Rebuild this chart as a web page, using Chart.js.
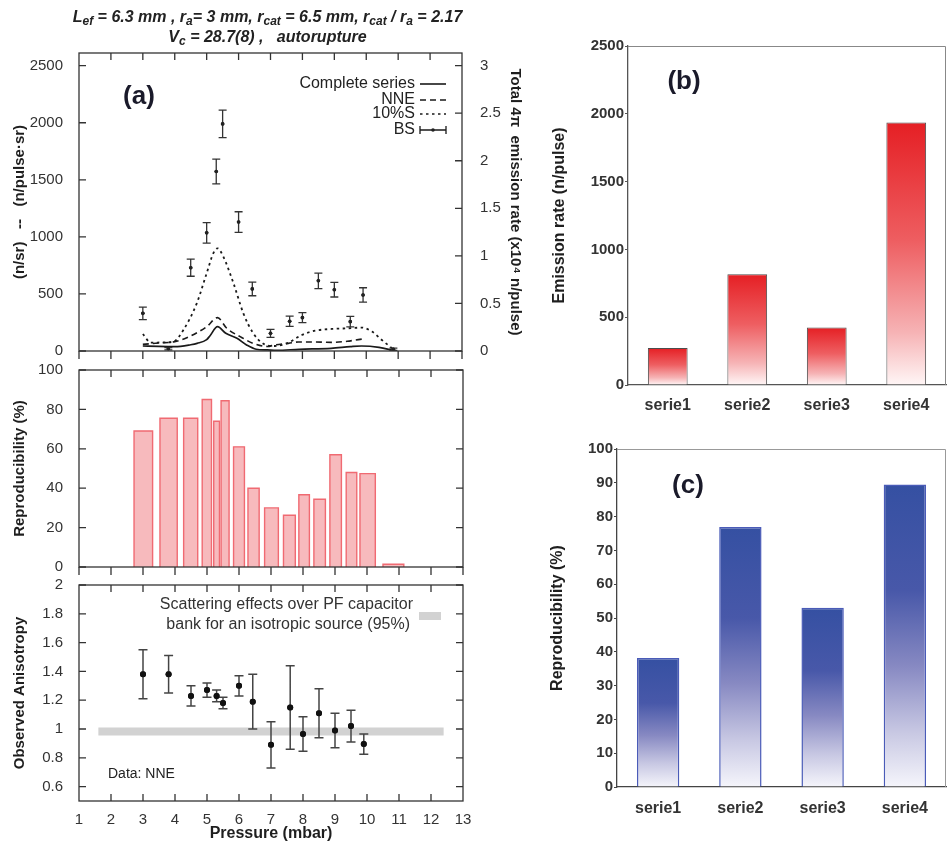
<!DOCTYPE html>
<html><head><meta charset="utf-8">
<script src="https://cdn.jsdelivr.net/npm/chart.js@4.4.0/dist/chart.umd.min.js"></script>
<style>
html,body{margin:0;padding:0;background:#fff;}
#wrap{position:relative;width:947px;height:846px;overflow:hidden;background:#fff;}
canvas{position:absolute;left:0;top:0;}
.t{position:absolute;left:0;width:535px;text-align:center;font:italic bold 16px 'Liberation Sans',Arial,sans-serif;color:#222;white-space:nowrap;line-height:18px;}
.t sub{font-size:12px;line-height:0;vertical-align:-3px;}
</style></head>
<body><div id="wrap">
<canvas id="a1" width="947" height="846"></canvas>
<canvas id="a2" width="947" height="846"></canvas>
<canvas id="a3" width="947" height="846"></canvas>
<canvas id="cb" width="947" height="846"></canvas>
<canvas id="cc" width="947" height="846"></canvas>
<div class="t" style="top:8px">L<sub>ef</sub> = 6.3 mm , r<sub>a</sub>= 3 mm, r<sub>cat</sub> = 6.5 mm, r<sub>cat</sub> / r<sub>a</sub> = 2.17</div>
<div class="t" style="top:28px">V<sub>c</sub> = 28.7(8) ,&nbsp;&nbsp; autorupture</div>
</div>
<script>
// ---------------- DATA ----------------
const completeP = [3.0, 3.5, 4.0, 4.5, 4.7, 5.0, 5.1, 5.34, 5.6, 5.95, 6.25, 6.55, 6.9, 7.2, 7.9, 8.9, 9.5, 9.85, 10.4, 10.85];
const completeV = [44, 40, 38, 55, 67, 100, 132, 213, 155, 111, 53, 15, 9, 6, 15, 23, 38, 44, 32, 5];
const nneP = [3.0, 3.5, 4.0, 4.5, 5.0, 5.34, 5.63, 6.05, 6.46, 6.9, 7.14, 7.56, 7.87, 8.4, 8.92, 9.4, 9.75, 9.95];
const nneV = [58, 70, 82, 132, 213, 292, 199, 126, 67, 40, 53, 67, 79, 79, 76, 85, 100, 108];
const s10P = [3.0, 3.25, 3.6, 3.96, 4.27, 4.69, 5.0, 5.21, 5.34, 5.52, 5.84, 6.15, 6.46, 6.8, 7.14, 7.56, 7.98, 8.4, 8.92, 9.44, 9.86, 10.18, 10.49, 10.85];
const s10V = [149, 73, 75, 82, 184, 418, 681, 857, 900, 827, 594, 330, 155, 60, 44, 73, 140, 178, 193, 199, 205, 170, 96, 15];
const bsP = [3.0, 3.8, 4.5, 5.0, 5.3, 5.5, 6.0, 6.43, 7.0, 7.6, 8.0, 8.5, 9.0, 9.5, 9.9, 10.85];
const bsV = [330, 20, 730, 1035, 1573, 1990, 1130, 544, 155, 260, 292, 615, 537, 257, 491, 15];
const bsErr = [55, 10, 75, 90, 108, 120, 90, 60, 35, 45, 44, 68, 64, 46, 63, 10];
const leftTicksA = [0, 500, 1000, 1500, 2000, 2500];

const reproLeft  = [2.72, 3.53, 4.27, 4.85, 5.21, 5.44, 5.83, 6.28, 6.80, 7.39, 7.87, 8.34, 8.84, 9.35, 9.78, 10.50];
const reproRight = [3.30, 4.07, 4.71, 5.14, 5.39, 5.69, 6.17, 6.63, 7.23, 7.76, 8.20, 8.70, 9.20, 9.68, 10.26, 11.15];
const reproV     = [69, 75.5, 75.5, 85, 74, 84.4, 61, 40, 30, 26.3, 36.7, 34.4, 57, 48, 47.4, 1.4];

const anisoP = [3.0, 3.8, 4.5, 5.0, 5.3, 5.5, 6.0, 6.43, 7.0, 7.6, 8.0, 8.5, 9.0, 9.5, 9.9];
const anisoV = [1.38, 1.38, 1.23, 1.27, 1.23, 1.18, 1.30, 1.19, 0.89, 1.15, 0.965, 1.11, 0.99, 1.02, 0.895];
const anisoErr = [0.17, 0.13, 0.07, 0.05, 0.04, 0.04, 0.07, 0.19, 0.16, 0.29, 0.12, 0.17, 0.12, 0.11, 0.07];
const bandP = [1.6, 12.4];
const bandLow = 0.955, bandHigh = 1.01;

const seriesLabels = ['serie1', 'serie2', 'serie3', 'serie4'];
const emissionRate = [272, 817, 424, 1936];
const reproducibility = [38.2, 76.9, 53.0, 89.5];

// ---------------- HELPERS ----------------
const FF = "'Liberation Sans', Arial, Helvetica, sans-serif";
const pts = (xs, ys) => xs.map((x, i) => ({x: x, y: ys[i]}));
const num = v => String(+(+v).toFixed(3));

const errPlugin = {
  id: 'errbars',
  afterDatasetsDraw(chart) {
    const ctx = chart.ctx;
    chart.data.datasets.forEach((ds, i) => {
      if (!ds.errors) return;
      const meta = chart.getDatasetMeta(i);
      const ys = chart.scales[meta.yAxisID];
      ctx.save();
      ctx.strokeStyle = ds.errColor; ctx.lineWidth = ds.errWidth;
      ctx.beginPath();
      meta.data.forEach((pt, j) => {
        const v = ds.data[j].y, e = ds.errors[j];
        const x = pt.x, y1 = ys.getPixelForValue(v + e), y2 = ys.getPixelForValue(v - e);
        const c = ds.capHalf;
        ctx.moveTo(x, y1); ctx.lineTo(x, y2);
        ctx.moveTo(x - c, y1); ctx.lineTo(x + c, y1);
        ctx.moveTo(x - c, y2); ctx.lineTo(x + c, y2);
      });
      ctx.stroke();
      meta.data.forEach((pt) => { pt.draw(ctx); });
      ctx.restore();
    });
  }
};

const framePlugin = {
  id: 'frame',
  afterDatasetsDraw(chart, args, o) {
    const {ctx, chartArea: a} = chart;
    const L = o.len;
    ctx.save();
    ctx.strokeStyle = o.color; ctx.lineWidth = o.width;
    ctx.strokeRect(a.left, a.top, a.right - a.left, a.bottom - a.top);
    ctx.beginPath();
    const xs = chart.scales.x;
    xs.ticks.forEach(t => {
      const px = xs.getPixelForValue(t.value);
      if (t.value > xs.min && t.value < xs.max) { ctx.moveTo(px, a.top); ctx.lineTo(px, a.top + L); }
      if (o.xBottomOut) { ctx.moveTo(px, a.bottom); ctx.lineTo(px, a.bottom + L + 1); }
      else if (t.value > xs.min && t.value < xs.max) { ctx.moveTo(px, a.bottom); ctx.lineTo(px, a.bottom - L); }
    });
    const ys = chart.scales.y;
    ys.ticks.forEach(t => {
      const py = ys.getPixelForValue(t.value);
      ctx.moveTo(a.left, py); ctx.lineTo(a.left + L, py);
      if (!o.rightScale) { ctx.moveTo(a.right, py); ctx.lineTo(a.right - L, py); }
    });
    if (o.rightScale) {
      const rs = chart.scales[o.rightScale];
      rs.ticks.forEach(t => {
        const py = rs.getPixelForValue(t.value);
        ctx.moveTo(a.right, py); ctx.lineTo(a.right - L, py);
      });
    }
    ctx.stroke();
    ctx.restore();
  }
};

function gradFill(stops) {
  return (c) => {
    const chart = c.chart;
    if (!chart.chartArea || c.type !== 'data') return stops[0][1];
    const y = chart.scales.y;
    const top = y.getPixelForValue(c.raw), base = y.getPixelForValue(0);
    const g = chart.ctx.createLinearGradient(0, top, 0, base);
    stops.forEach(s => g.addColorStop(s[0], s[1]));
    return g;
  };
}

const baseOpts = {
  responsive: false, animation: false, devicePixelRatio: 1,
  plugins: {legend: {display: false}, tooltip: {enabled: false}}
};

const xLinear = (h, showLabels) => ({
  type: 'linear', min: 1, max: 13,
  grid: {display: false}, border: {display: false},
  ticks: {display: showLabels, stepSize: 1, font: {family: FF, size: 15}, color: '#333', padding: 2, maxRotation: 0, autoSkip: false},
  afterFit: s => { s.height = h; }
});

const yTitle = (text, pad) => ({display: true, text: text, color: '#1e1e1e', font: {family: FF, size: 15, weight: 'bold'}, padding: {top: pad, bottom: 0}});

// ---------------- (a) top ----------------
new Chart(document.getElementById('a1'), {
  type: 'line',
  data: {
    datasets: [
      {label: 'BS', data: pts(bsP, bsV), showLine: false, pointRadius: 1.8, pointBackgroundColor: '#222', pointBorderWidth: 0,
       errors: bsErr, errColor: '#333', errWidth: 1.3, capHalf: 4},
      {label: 'Complete series', data: pts(completeP, completeV), borderColor: '#1a1a1a', borderWidth: 1.7, pointRadius: 0, cubicInterpolationMode: 'monotone', fill: false},
      {label: 'NNE', data: pts(nneP, nneV), borderColor: '#1a1a1a', borderWidth: 1.6, borderDash: [6, 4], pointRadius: 0, cubicInterpolationMode: 'monotone', fill: false},
      {label: '10%S', data: pts(s10P, s10V), borderColor: '#1a1a1a', borderWidth: 1.8, borderDash: [2.5, 3.5], pointRadius: 0, cubicInterpolationMode: 'monotone', fill: false}
    ]
  },
  options: Object.assign({}, baseOpts, {
    layout: {padding: {left: 0, right: 415, top: 53, bottom: 495}},
    plugins: Object.assign({}, baseOpts.plugins, {frame: {len: 7, color: '#333', width: 1.3, xBottomOut: true, rightScale: 'y1'}}),
    scales: {
      x: xLinear(0, false),
      y: {type: 'linear', position: 'left', min: 0, max: 2611,
          grid: {display: false}, border: {display: false},
          afterBuildTicks: s => { s.ticks = leftTicksA.map(v => ({value: v})); },
          ticks: {padding: 8, color: '#333', font: {family: FF, size: 15}, callback: v => String(v)},
          title: yTitle('(n/sr)   --   (n/pulse\u00b7sr)', 11),
          afterFit: s => { s.width = 79; }},
      y1: {type: 'linear', position: 'right', min: 0, max: 3.133,
          grid: {display: false}, border: {display: false},
          ticks: {stepSize: 0.5, includeBounds: false, padding: 10, color: '#333', font: {family: FF, size: 15}, callback: num},
          title: yTitle('Total 4\u03c0  emission rate (x10\u2074 n/pulse)', 8),
          afterFit: s => { s.width = 70; }}
    }
  }),
  plugins: [errPlugin, framePlugin, {
    id: 'a1extra',
    afterDraw(chart) {
      const ctx = chart.ctx;
      ctx.save();
      ctx.fillStyle = '#222'; ctx.textAlign = 'right'; ctx.textBaseline = 'middle';
      ctx.font = '16px ' + FF;
      const rows = [['Complete series', 84, []], ['NNE', 100, [6, 4]], ['10%S', 114, [2.5, 3.5]], ['BS', 130, null]];
      ctx.strokeStyle = '#1a1a1a'; ctx.lineWidth = 1.6;
      rows.forEach(r => {
        ctx.fillText(r[0], 415, r[1]);
        ctx.beginPath();
        if (r[2]) { ctx.setLineDash(r[2]); ctx.moveTo(420, r[1]); ctx.lineTo(446, r[1]); ctx.stroke(); ctx.setLineDash([]); }
        else {
          ctx.lineWidth = 1.3;
          ctx.moveTo(420, r[1]); ctx.lineTo(446, r[1]);
          ctx.moveTo(420, r[1] - 4); ctx.lineTo(420, r[1] + 4);
          ctx.moveTo(446, r[1] - 4); ctx.lineTo(446, r[1] + 4);
          ctx.stroke();
          ctx.beginPath(); ctx.arc(433, r[1], 1.8, 0, Math.PI * 2); ctx.fill();
        }
      });
      ctx.textAlign = 'center';
      ctx.fillStyle = '#1a1a2a';
      ctx.font = 'bold 26px ' + FF;
      ctx.fillText('(a)', 139, 97);
      ctx.restore();
    }
  }]
});

// ---------------- (a) middle ----------------
const reproPts = [];
reproV.forEach((v, i) => {
  reproPts.push({x: reproLeft[i], y: 0}, {x: reproLeft[i], y: v}, {x: reproRight[i], y: v}, {x: reproRight[i], y: 0});
});
new Chart(document.getElementById('a2'), {
  type: 'line',
  data: {
    datasets: [{
      label: 'Reproducibility', data: reproPts, tension: 0, pointRadius: 0,
      borderWidth: 1.4, borderColor: '#f06a72',
      segment: {borderColor: c => (c.p0.parsed.y === 0 && c.p1.parsed.y === 0) ? 'rgba(0,0,0,0)' : '#f06a72'},
      backgroundColor: '#f7babd', fill: {target: 'origin'}
    }]
  },
  options: Object.assign({}, baseOpts, {
    layout: {padding: {left: 0, right: 484, top: 370, bottom: 279}},
    plugins: Object.assign({}, baseOpts.plugins, {frame: {len: 7, color: '#333', width: 1.3, xBottomOut: true}}),
    scales: {
      x: xLinear(0, false),
      y: {type: 'linear', min: 0, max: 100,
          grid: {display: false}, border: {display: false},
          ticks: {stepSize: 20, padding: 8, color: '#333', font: {family: FF, size: 15}},
          title: yTitle('Reproducibility (%)', 11),
          afterFit: s => { s.width = 79; }}
    }
  }),
  plugins: [framePlugin]
});

// ---------------- (a) bottom ----------------
new Chart(document.getElementById('a3'), {
  type: 'line',
  data: {
    datasets: [
      {label: 'Anisotropy (NNE)', data: pts(anisoP, anisoV), showLine: false, pointRadius: 3, pointBackgroundColor: '#111', pointBorderWidth: 0,
       errors: anisoErr, errColor: '#444', errWidth: 1.5, capHalf: 4.5},
      {label: 'Scattering band', data: pts(bandP, [bandHigh, bandHigh]), borderColor: 'rgba(0,0,0,0)', pointRadius: 0, backgroundColor: '#d2d2d2', fill: '+1'},
      {label: 'band low', data: pts(bandP, [bandLow, bandLow]), borderColor: 'rgba(0,0,0,0)', pointRadius: 0, fill: false}
    ]
  },
  options: Object.assign({}, baseOpts, {
    layout: {padding: {left: 0, right: 484, top: 585, bottom: 0}},
    plugins: Object.assign({}, baseOpts.plugins, {frame: {len: 7, color: '#333', width: 1.3, xBottomOut: false}}),
    scales: {
      x: Object.assign(xLinear(45, true), {
        title: {display: true, text: 'Pressure (mbar)', color: '#1e1e1e', font: {family: FF, size: 16, weight: 'bold'}, padding: {top: 0, bottom: 3}}
      }),
      y: {type: 'linear', min: 0.5, max: 2,
          grid: {display: false}, border: {display: false},
          ticks: {stepSize: 0.2, includeBounds: false, padding: 8, color: '#333', font: {family: FF, size: 15}, callback: num},
          title: yTitle('Observed Anisotropy', 11),
          afterFit: s => { s.width = 79; }}
    }
  }),
  plugins: [errPlugin, framePlugin, {
    id: 'a3extra',
    afterDraw(chart) {
      const ctx = chart.ctx;
      ctx.save();
      ctx.fillStyle = '#333'; ctx.textAlign = 'right'; ctx.textBaseline = 'middle';
      ctx.font = '16px ' + FF;
      ctx.fillText('Scattering effects over PF capacitor', 413, 605);
      ctx.fillText('bank for an isotropic source (95%)', 410, 625);
      ctx.fillStyle = '#d2d2d2';
      ctx.fillRect(419, 612, 22, 8);
      ctx.fillStyle = '#222'; ctx.textAlign = 'left';
      ctx.font = '14px ' + FF;
      ctx.fillText('Data: NNE', 108, 774);
      ctx.restore();
    }
  }]
});

// ---------------- (b) ----------------
const boxPlugin = {
  id: 'box',
  afterDraw(chart, args, o) {
    const {ctx, chartArea: a} = chart;
    ctx.save();
    ctx.strokeStyle = o.color; ctx.lineWidth = 1;
    ctx.beginPath();
    ctx.moveTo(a.left, a.top + 0.5); ctx.lineTo(a.right - 0.5, a.top + 0.5); ctx.lineTo(a.right - 0.5, a.bottom);
    ctx.stroke();
    ctx.fillStyle = '#1a1a2a'; ctx.textAlign = 'center'; ctx.textBaseline = 'middle';
    ctx.font = 'bold 26px ' + FF;
    ctx.fillText(o.label, o.lx, o.ly);
    ctx.restore();
  }
};

new Chart(document.getElementById('cb'), {
  type: 'bar',
  data: {
    labels: seriesLabels,
    datasets: [{
      label: 'Emission rate (n/pulse)', data: emissionRate,
      backgroundColor: gradFill([[0, '#e51f24'], [0.45, '#ee5e61'], [0.8, '#f6b3b5'], [1, '#fff6f6']]),
      borderColor: '#4d4d4d', borderWidth: 1,
      barPercentage: 0.5, categoryPercentage: 1
    }]
  },
  options: Object.assign({}, baseOpts, {
    layout: {padding: {left: 540, right: 1, top: 46, bottom: 431}},
    plugins: Object.assign({}, baseOpts.plugins, {box: {color: '#888', label: '(b)', lx: 684, ly: 82}}),
    scales: {
      x: {grid: {display: false}, border: {color: '#555', width: 1.3},
          ticks: {color: '#333', font: {family: FF, size: 16, weight: 'bold'}, padding: 3},
          afterFit: s => { s.height = 30; }},
      y: {min: 0, max: 2500,
          grid: {drawOnChartArea: false, tickLength: 3, color: '#555'}, border: {color: '#555', width: 1.3},
          ticks: {stepSize: 500, padding: 1, color: '#333', font: {family: FF, size: 15, weight: 'bold'}, callback: v => String(v)},
          title: {display: true, text: 'Emission rate (n/pulse)', color: '#1e1e1e', font: {family: FF, size: 16, weight: 'bold'}, padding: {top: 10, bottom: 0}},
          afterFit: s => { s.width = 88; }}
    }
  }),
  plugins: [boxPlugin]
});

// ---------------- (c) ----------------
new Chart(document.getElementById('cc'), {
  type: 'bar',
  data: {
    labels: seriesLabels,
    datasets: [{
      label: 'Reproducibility (%)', data: reproducibility,
      backgroundColor: gradFill([[0, '#3550a2'], [0.35, '#4858a9'], [0.6, '#8789c2'], [0.82, '#c8c8e3'], [1, '#f5f5fb']]),
      borderColor: '#4a5bb8', borderWidth: 1.5,
      barPercentage: 0.515, categoryPercentage: 1
    }]
  },
  options: Object.assign({}, baseOpts, {
    layout: {padding: {left: 535, right: 1, top: 449, bottom: 29}},
    plugins: Object.assign({}, baseOpts.plugins, {box: {color: '#999', label: '(c)', lx: 688, ly: 486}}),
    scales: {
      x: {grid: {display: false}, border: {color: '#444', width: 1.3},
          ticks: {color: '#333', font: {family: FF, size: 16, weight: 'bold'}, padding: 4},
          afterFit: s => { s.height = 30; }},
      y: {min: 0, max: 100,
          grid: {drawOnChartArea: false, tickLength: 3, color: '#444'}, border: {color: '#444', width: 1.3},
          ticks: {stepSize: 10, padding: 1, color: '#333', font: {family: FF, size: 15, weight: 'bold'}},
          title: {display: true, text: 'Reproducibility (%)', color: '#1e1e1e', font: {family: FF, size: 16, weight: 'bold'}, padding: {top: 13, bottom: 0}},
          afterFit: s => { s.width = 82; }}
    }
  }),
  plugins: [boxPlugin]
});
</script>
</body></html>
